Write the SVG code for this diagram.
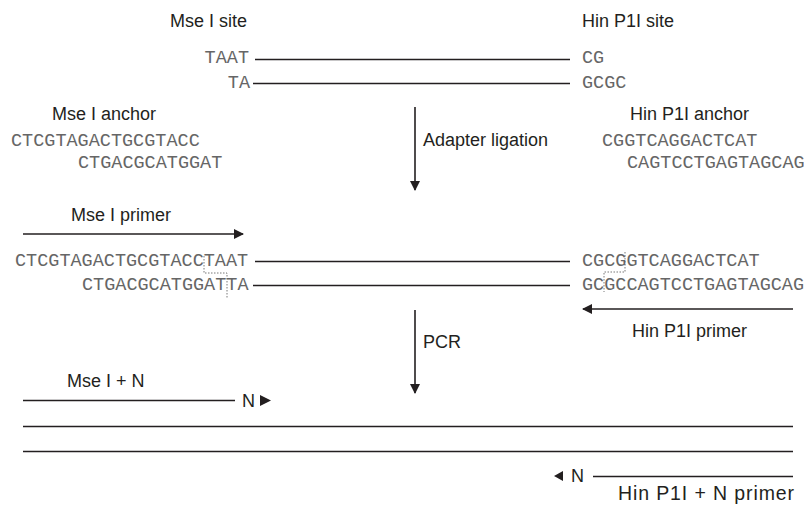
<svg xmlns="http://www.w3.org/2000/svg" width="804" height="505" viewBox="0 0 804 505">
<style>
.lbl{font-family:"Liberation Sans",Arial,sans-serif;font-size:18px;fill:#231f20}
.seq{font-family:"Liberation Mono","Courier New",monospace;font-size:18.5px;fill:#666}
.ln{stroke:#231f20;stroke-width:1.6;fill:none}
.dot{stroke:#555;stroke-width:0.8;stroke-dasharray:1.5 1.5;fill:none}
</style>
<defs>
<marker id="ah" markerWidth="10" markerHeight="10" refX="9" refY="5" orient="auto" markerUnits="userSpaceOnUse" viewBox="0 0 10 10">
<path d="M0,0 L10,5 L0,10 Z" fill="#231f20"/>
</marker>
</defs>
<rect width="804" height="505" fill="#fff"/>

<g id="mse-site">
<text class="lbl" x="170" y="27">Mse I site</text>
<text class="seq" x="249" y="63" text-anchor="end">TAAT</text>
<text class="seq" x="250" y="88" text-anchor="end">TA</text>
</g>
<g id="hin-site">
<text class="lbl" x="582" y="27">Hin P1I site</text>
<text class="seq" x="582" y="63">CG</text>
<text class="seq" x="582" y="88">GCGC</text>
</g>

<g id="mse-anchor">
<text class="lbl" x="52" y="120">Mse I anchor</text>
<text class="seq" x="11" y="146">CTCGTAGACTGCGTACC</text>
<text class="seq" x="78" y="168">CTGACGCATGGAT</text>
</g>
<g id="hin-anchor">
<text class="lbl" x="630" y="120">Hin P1I anchor</text>
<text class="seq" x="602" y="146">CGGTCAGGACTCAT</text>
<text class="seq" x="627" y="168">CAGTCCTGAGTAGCAG</text>
</g>

<g id="adapter-ligation">
<text class="lbl" x="423" y="146">Adapter ligation</text>
</g>

<g id="mse-primer">
<text class="lbl" x="71" y="221">Mse I primer</text>
</g>

<g id="ligated-left">
<text class="seq" x="15" y="266">CTCGTAGACTGCGTACCTAAT</text>
<text class="seq" x="82" y="290">CTGACGCATGGATTA</text>
<path class="dot" d="M204,256 V273 H227 V298"/>
</g>
<g id="ligated-right">
<text class="seq" x="582" y="266">CGCGGTCAGGACTCAT</text>
<text class="seq" x="582" y="290">GCGCCAGTCCTGAGTAGCAG</text>
<path class="dot" d="M625,252 V272 H604 V292"/>
</g>

<g id="hin-primer">
<text class="lbl" x="632" y="337">Hin P1I primer</text>
</g>

<g id="pcr">
<text class="lbl" x="423" y="348">PCR</text>
</g>

<g id="mse-n-primer">
<text class="lbl" x="67" y="387">Mse I + N</text>
<text class="lbl" x="242" y="407">N</text>
<polygon points="260,395 271,400.5 260,406" fill="#231f20"/>
</g>

<g id="hin-n-primer">
<polygon points="563,471 554,476 563,481" fill="#231f20"/>
<text class="lbl" x="571" y="482">N</text>
<text class="lbl" x="618" y="500" style="font-size:19.5px" textLength="176" lengthAdjust="spacing">Hin P1I + N primer</text>
</g>

<g id="connectors">
<line class="ln" x1="255" y1="59.5" x2="570" y2="59.5"/>
<line class="ln" x1="253" y1="83.5" x2="570" y2="83.5"/>
<line class="ln" x1="415" y1="107" x2="415" y2="190" marker-end="url(#ah)"/>
<line class="ln" x1="23" y1="234" x2="243" y2="234" marker-end="url(#ah)"/>
<line class="ln" x1="255" y1="261.5" x2="570" y2="261.5"/>
<line class="ln" x1="253" y1="285.5" x2="570" y2="285.5"/>
<line class="ln" x1="793" y1="309" x2="583" y2="309" marker-end="url(#ah)"/>
<line class="ln" x1="415" y1="310" x2="415" y2="393" marker-end="url(#ah)"/>
<line class="ln" x1="23" y1="400.5" x2="235" y2="400.5"/>
<line class="ln" x1="23" y1="426.5" x2="793" y2="426.5"/>
<line class="ln" x1="23" y1="451.5" x2="793" y2="451.5"/>
<line class="ln" x1="593" y1="476.5" x2="793" y2="476.5"/>
</g>
</svg>
